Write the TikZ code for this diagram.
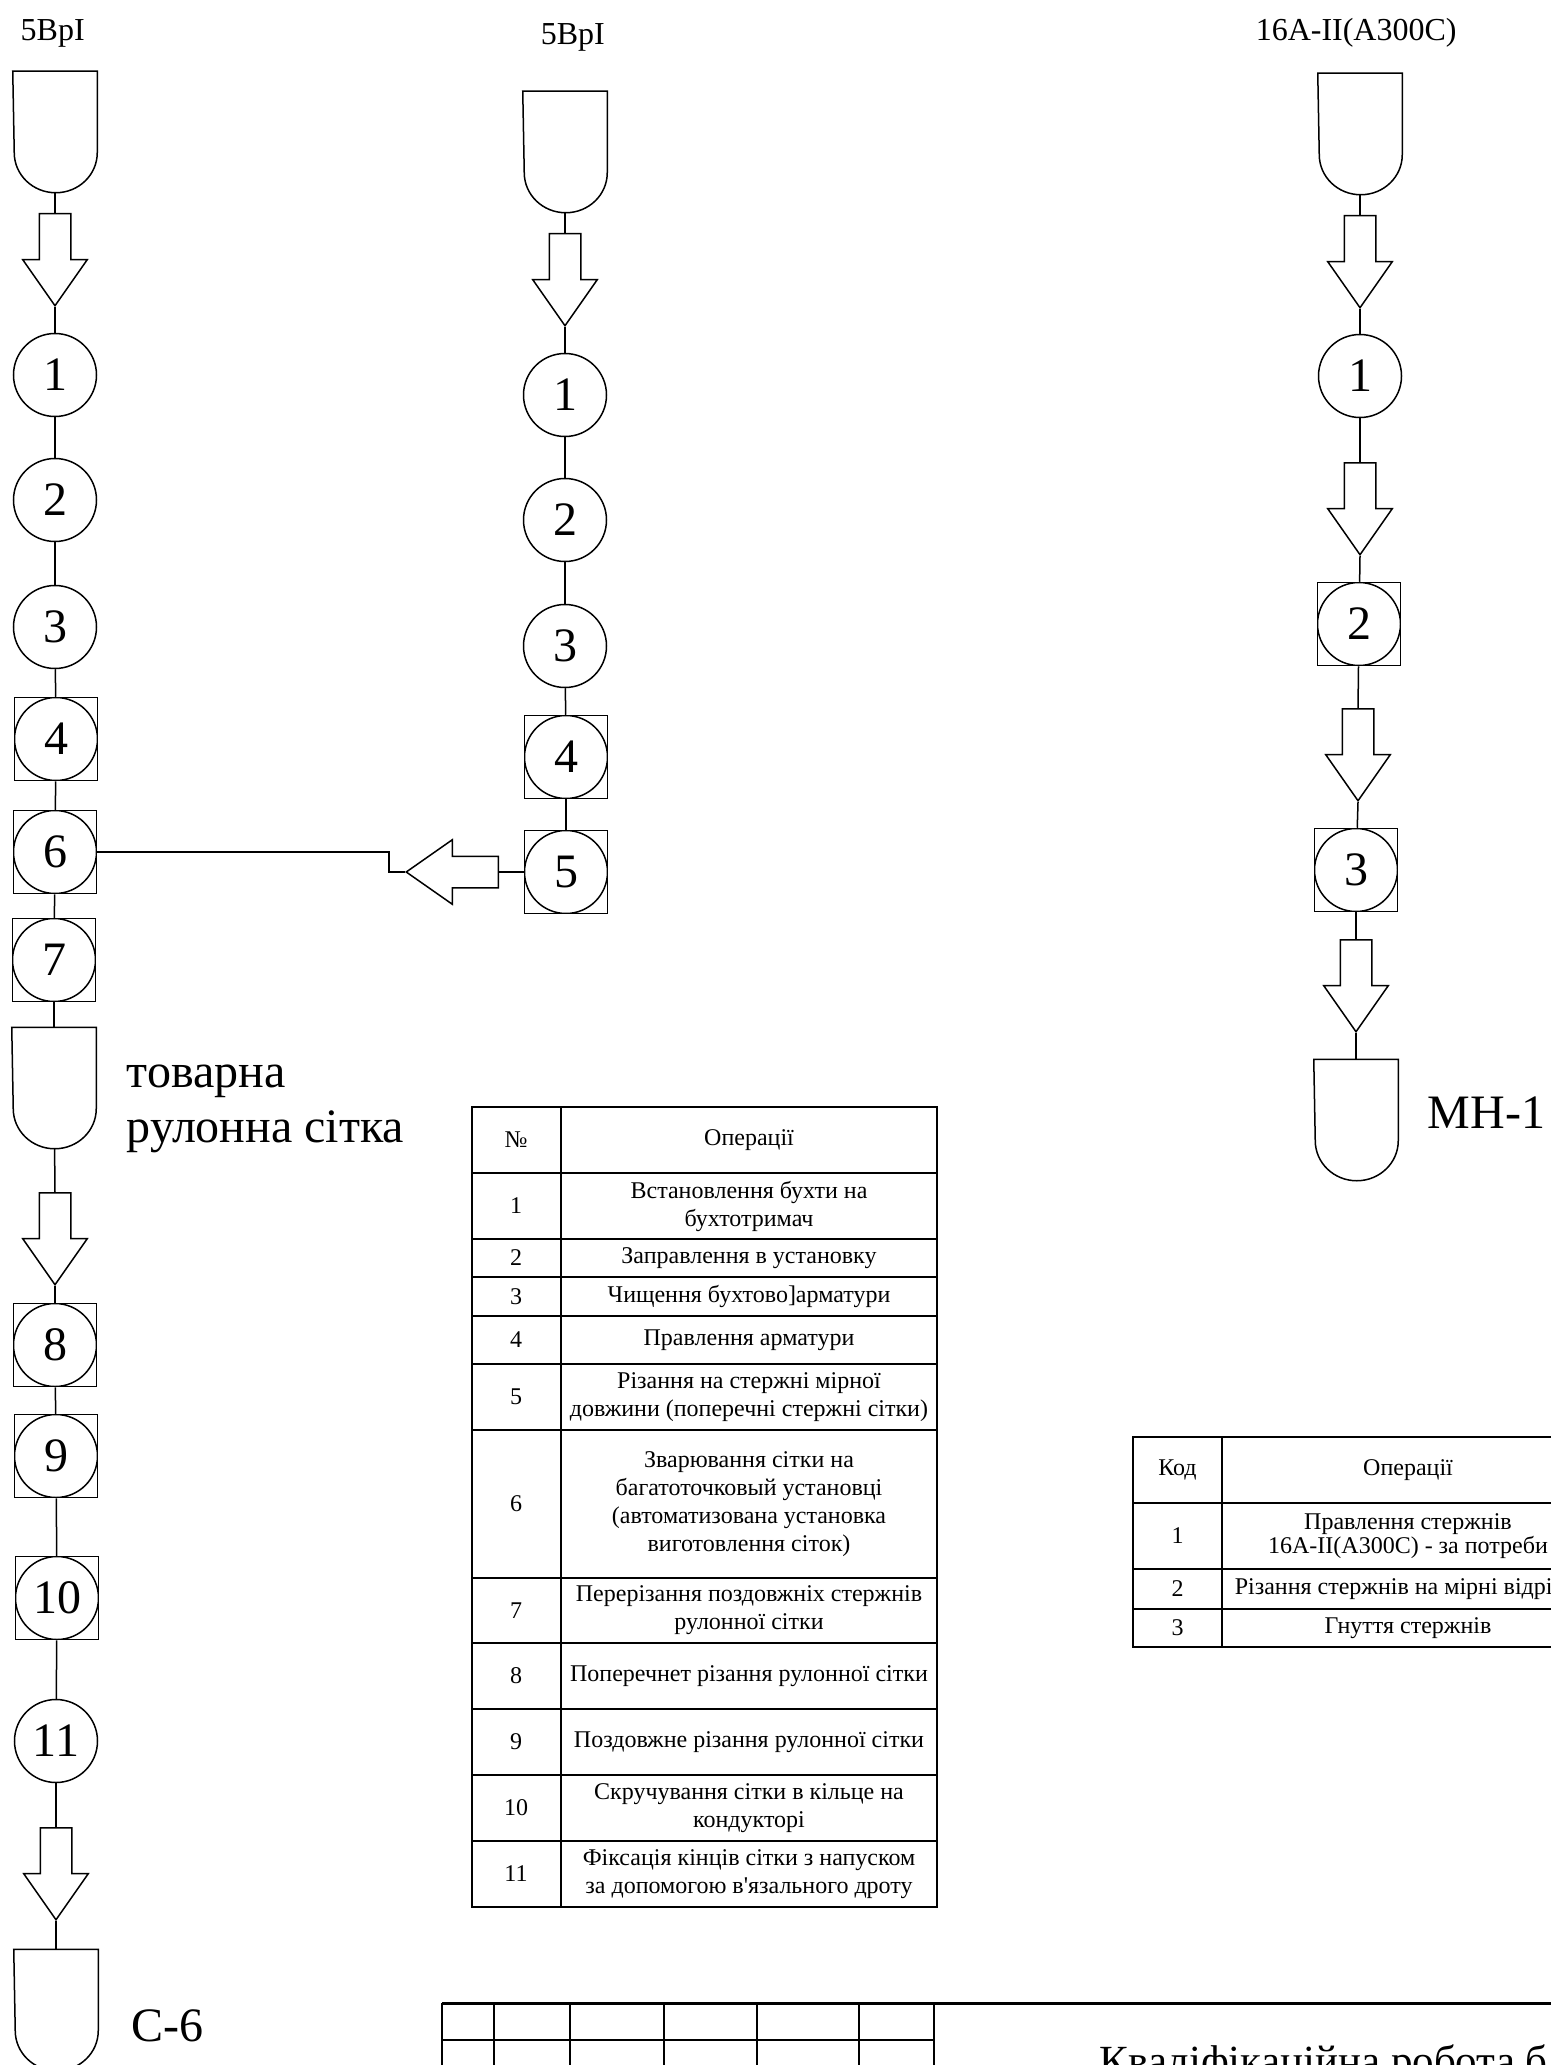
\documentclass[tikz,border=0pt]{standalone}
\usepackage{fontspec}
\setmainfont{Liberation Serif}
\usetikzlibrary{shapes.arrows}

\begin{document}
\begin{tikzpicture}[
    x=0.5pt, y=-0.5pt, line width=0.75pt,
    op/.style={draw, circle, minimum size=41.5pt, inner sep=0pt, font=\fontsize{24}{28}\selectfont},
    opsq/.style={draw, rectangle, minimum size=41.5pt, inner sep=0pt, font=\fontsize{24}{28}\selectfont,
        path picture={\draw (path picture bounding box.center) circle[radius=20.75pt];}},
    flow/.style={draw, single arrow, minimum width=31.5pt, minimum height=46pt, single arrow head extend=8.25pt, single arrow tip angle=70, inner sep=7.5pt, anchor=tail},
    store/.style={minimum width=41.5pt, minimum height=60pt, inner sep=0pt,
        append after command={\pgfextra{\draw (\tikzlastnode.north west) -- (\tikzlastnode.north east) -- ([yshift=20pt]\tikzlastnode.south east) arc[start angle=0, end angle=-180, x radius=20.75pt, y radius=20pt] -- cycle;}}},
    grade/.style={inner sep=0pt, anchor=base west, font=\fontsize{16}{19}\selectfont},
    big/.style={inner sep=0pt, anchor=base west, font=\fontsize{24}{28}\selectfont},
    cell/.style={inner sep=0pt, align=center, font=\fontsize{12}{14}\selectfont},
    rcell/.style={inner sep=0pt, align=center, font=\fontsize{12}{10.3}\selectfont},
    grid/.style={line width=0.75pt},
    rgrid/.style={line width=1pt},
    stamp/.style={line width=1.2pt}
]
    \path[use as bounding box, fill=white] (0,0) rectangle (1551,2065);

    % ================= ROLL MESH LINE (left) =================
    \node[grade] (lbl_r) at (20,41) {5BpI};
    \node[store] (RS1) at (55,132) {};
    \node[flow, rotate=-90] (RA1) at (55,213) {};
    \node[op] (R1) at (55,375) {1};
    \node[op] (R2) at (55,500) {2};
    \node[op] (R3) at (55,627) {3};
    \node[opsq] (R4) at (56,739) {4};
    \node[opsq] (R6) at (55,852) {6};
    \node[opsq] (R7) at (54,960) {7};
    \node[store] (RS2) at (54,1088) {};
    \node[big] (lbl_t1) at (126,1087) {товарна};
    \node[big] (lbl_t2) at (126,1142) {рулонна сітка};
    \node[flow, rotate=-90] (RA2) at (55,1192) {};
    \node[opsq] (R8) at (55,1345) {8};
    \node[opsq] (R9) at (56,1456) {9};
    \node[opsq] (R10) at (57,1598) {10};
    \node[op] (R11) at (56,1741) {11};
    \node[flow, rotate=-90] (RA3) at (56,1827) {};
    \node[store] (RS3) at (56,2010) {};
    \node[big] (lbl_c6) at (131,2041) {С-6};

    \draw (RS1) -- (RA1.tail);
    \draw (RA1.tip) -- (R1);
    \draw (R1) -- (R2);
    \draw (R2) -- (R3);
    \draw (R3) -- (R4);
    \draw (R4) -- (R6);
    \draw (R6) -- (R7);
    \draw (R7) -- (RS2);
    \draw (RS2) -- (RA2.tail);
    \draw (RA2.tip) -- (R8);
    \draw (R8) -- (R9);
    \draw (R9) -- (R10);
    \draw (R10) -- (R11);
    \draw (R11) -- (RA3.tail);
    \draw (RA3.tip) -- (RS3);

    % ================= CROSS BARS LINE (middle) =================
    \node[grade] (lbl_p) at (540,45) {5BpI};
    \node[store] (PS1) at (565,152) {};
    \node[flow, rotate=-90] (PA1) at (565,233) {};
    \node[op] (P1) at (565,395) {1};
    \node[op] (P2) at (565,520) {2};
    \node[op] (P3) at (565,646) {3};
    \node[opsq] (P4) at (566,757) {4};
    \node[opsq] (P5) at (566,872) {5};
    \node[flow, rotate=180] (PAH) at (499,872) {};

    \draw (PS1) -- (PA1.tail);
    \draw (PA1.tip) -- (P1);
    \draw (P1) -- (P2);
    \draw (P2) -- (P3);
    \draw (P3) -- (P4);
    \draw (P4) -- (P5);
    \draw (P5.west) -- (PAH.tail);
    \draw (PAH.tip) -- ++(-16,0) |- (R6.east);

    % ================= BENT BARS LINE (right) =================
    \node[grade] (lbl_k) at (1255,41) {16A-II(A300C)};
    \node[store] (KS1) at (1360,134) {};
    \node[flow, rotate=-90] (KA1) at (1360,215) {};
    \node[op] (K1) at (1360,376) {1};
    \node[flow, rotate=-90] (KA2) at (1360,462) {};
    \node[opsq] (K2) at (1359,624) {2};
    \node[flow, rotate=-90] (KA3) at (1358,708) {};
    \node[opsq] (K3) at (1356,870) {3};
    \node[flow, rotate=-90] (KA4) at (1356,939) {};
    \node[store] (KS2) at (1356,1120) {};
    \node[big] (lbl_mn) at (1427,1128) {МН-1};

    \draw (KS1) -- (KA1.tail);
    \draw (KA1.tip) -- (K1);
    \draw (K1) -- (KA2.tail);
    \draw (KA2.tip) -- (K2);
    \draw (K2) -- (KA3.tail);
    \draw (KA3.tip) -- (K3);
    \draw (K3) -- (KA4.tail);
    \draw (KA4.tip) -- (KS2);

    % ================= OPERATIONS TABLE (mesh) =================
    \draw[grid] (472,1107) rectangle (937,1907);
    \draw[grid] (561,1107) -- (561,1907);
    \foreach \y in {1173,1239,1277,1316,1364,1430,1578,1643,1709,1775,1841}
        \draw[grid] (472,\y) -- (937,\y);

    \node[cell] (t_no) at (516,1140) {№};
    \node[cell] (t_op) at (749,1140) {Операції};
    \foreach \n/\y/\txt in {
        1/1206/{Встановлення бухти на\\бухтотримач},
        2/1258/{Заправлення в установку},
        3/1296.5/{Чищення бухтово]арматури},
        4/1340/{Правлення арматури},
        5/1397/{Різання на стержні мірної\\довжини (поперечні стержні сітки)},
        6/1504/{Зварювання сітки на\\багатоточковый установці\\(автоматизована установка\\виготовлення сіток)},
        7/1610.5/{Перерізання поздовжніх стержнів\\рулонної сітки},
        8/1676/{Поперечнет різання рулонної сітки},
        9/1742/{Поздовжне різання рулонної сітки},
        10/1808/{Скручування сітки в кільце на\\кондукторі},
        11/1874/{Фіксація кінців сітки з напуском\\за допомогою в\textquotesingle язального дроту}}
    {
        \node[cell] (tn\n) at (516,\y) {\n};
        \node[cell] (t\n) at (749,\y) {\txt};
    }

    % ================= OPERATIONS TABLE (bars) =================
    \draw[rgrid] (1551,1437) -- (1133,1437) -- (1133,1647) -- (1551,1647);
    \draw[rgrid] (1222,1437) -- (1222,1647);
    \foreach \y in {1503,1569,1609}
        \draw[rgrid] (1133,\y) -- (1551,\y);

    \node[cell] (k_code) at (1177.5,1470) {Код};
    \node[cell] (k_op) at (1408,1470) {Операції};
    \node[cell] (kn1) at (1177.5,1536) {1};
    \node[rcell] (k1) at (1408,1536) {Правлення стержнів\\16A-II(A300C) - за потреби};
    \node[cell] (kn2) at (1177.5,1589) {2};
    \node[cell, anchor=west] (k2) at (1234,1589) {Різання стержнів на мірні відрі};
    \node[cell] (kn3) at (1177.5,1628) {3};
    \node[cell] (k3) at (1408,1628) {Гнуття стержнів};

    % ================= TITLE BLOCK =================
    \draw[line width=1.5pt] (442,2003) -- (1551,2003);
    \foreach \x in {442,494,570,664,757,859,934}
        \draw[stamp] (\x,2003) -- (\x,2065);
    \draw[stamp] (442,2040) -- (934,2040);
    \node[inner sep=0pt, anchor=base west, font=\fontsize{21.5}{25}\selectfont] (stamp_title) at (1099,2075) {Кваліфікаційна робота б};

\end{tikzpicture}
\end{document}
